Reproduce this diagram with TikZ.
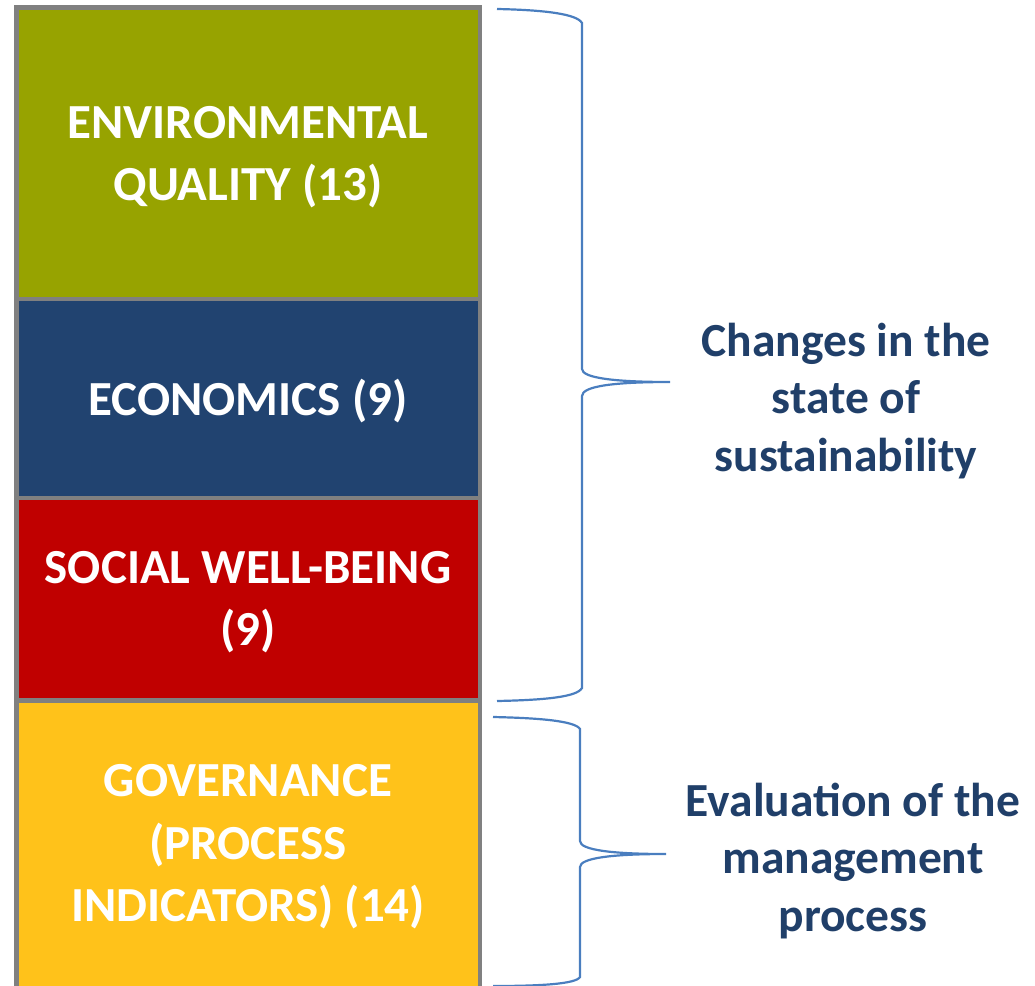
\documentclass[tikz,border=0pt]{standalone}
\usepackage{fontspec}
\setmainfont{Carlito}
\definecolor{envgreen}{HTML}{97A300}
\definecolor{econblue}{HTML}{214370}
\definecolor{socred}{HTML}{C00000}
\definecolor{govyellow}{HTML}{FFC21A}
\definecolor{framegray}{HTML}{808080}
\definecolor{bracecol}{HTML}{4A7EBF}
\definecolor{notecol}{HTML}{203F69}
\begin{document}
\begin{tikzpicture}[x=1pt,y=-1pt,
  pillar/.style={draw=framegray, line width=4.5pt, minimum width=463.5pt, inner sep=0pt, outer sep=0pt, anchor=north west},
  pillartext/.style={text=white, font=\fontsize{49}{62.5}\selectfont\bfseries, align=center, inner sep=0pt},
  notetext/.style={text=notecol, font=\fontsize{47.5}{57.5}\selectfont\bfseries, align=center, inner sep=0pt},
  bracket/.style={draw=bracecol, line width=2.2pt}]
\useasboundingbox (0,0) rectangle (1035,985);
\clip (0,0) rectangle (1035,985);

% stacked indicator groups
\node[pillar, fill=envgreen, minimum height=291.5pt] (env) at (16.5,7.5) {};
\node[pillar, fill=econblue, minimum height=199pt] (eco) at (16.5,299) {};
\node[pillar, fill=socred, minimum height=202.5pt] (soc) at (16.5,498) {};
\node[pillar, fill=govyellow, minimum height=320pt] (gov) at (16.5,700.5) {};

\node[pillartext] (envt) at (248,157) {ENVIRONMENTAL\\QUALITY (13)};
\node[pillartext] (ecot) at (248,401) {ECONOMICS (9)};
\node[pillartext] (soct) at (248,602) {SOCIAL WELL-BEING\\(9)};
\node[pillartext] (govt) at (248,847) {GOVERNANCE\\(PROCESS\\INDICATORS) (14)};

% curly brackets
\coordinate (b1top) at (497,9);
\coordinate (b1tip) at (670,382);
\coordinate (b1bot) at (497,701);
\coordinate (b2top) at (493,717);
\coordinate (b2tip) at (666,854);
\coordinate (b2bot) at (493,986);

\draw[bracket] (b1top) .. controls (545,10) and (577,14) .. (582,23)
  -- (582,369) .. controls (582,378) and (615,382) .. (b1tip)
  .. controls (615,382) and (582,386) .. (582,396)
  -- (582,688) .. controls (577,697) and (545,700) .. (b1bot);
\draw[bracket] (b2top) .. controls (540,718) and (575,721) .. (580,729)
  -- (580,841) .. controls (580,850) and (612,854) .. (b2tip)
  .. controls (612,854) and (580,858) .. (580,867)
  -- (580,977) .. controls (576,984) and (540,986) .. (b2bot);

\node[notetext] (state) at (846,401) {Changes in the\\state of\\sustainability};
\node[notetext] (mgmt) at (853,861) {Evaluation of the\\management\\process};
\end{tikzpicture}
\end{document}
